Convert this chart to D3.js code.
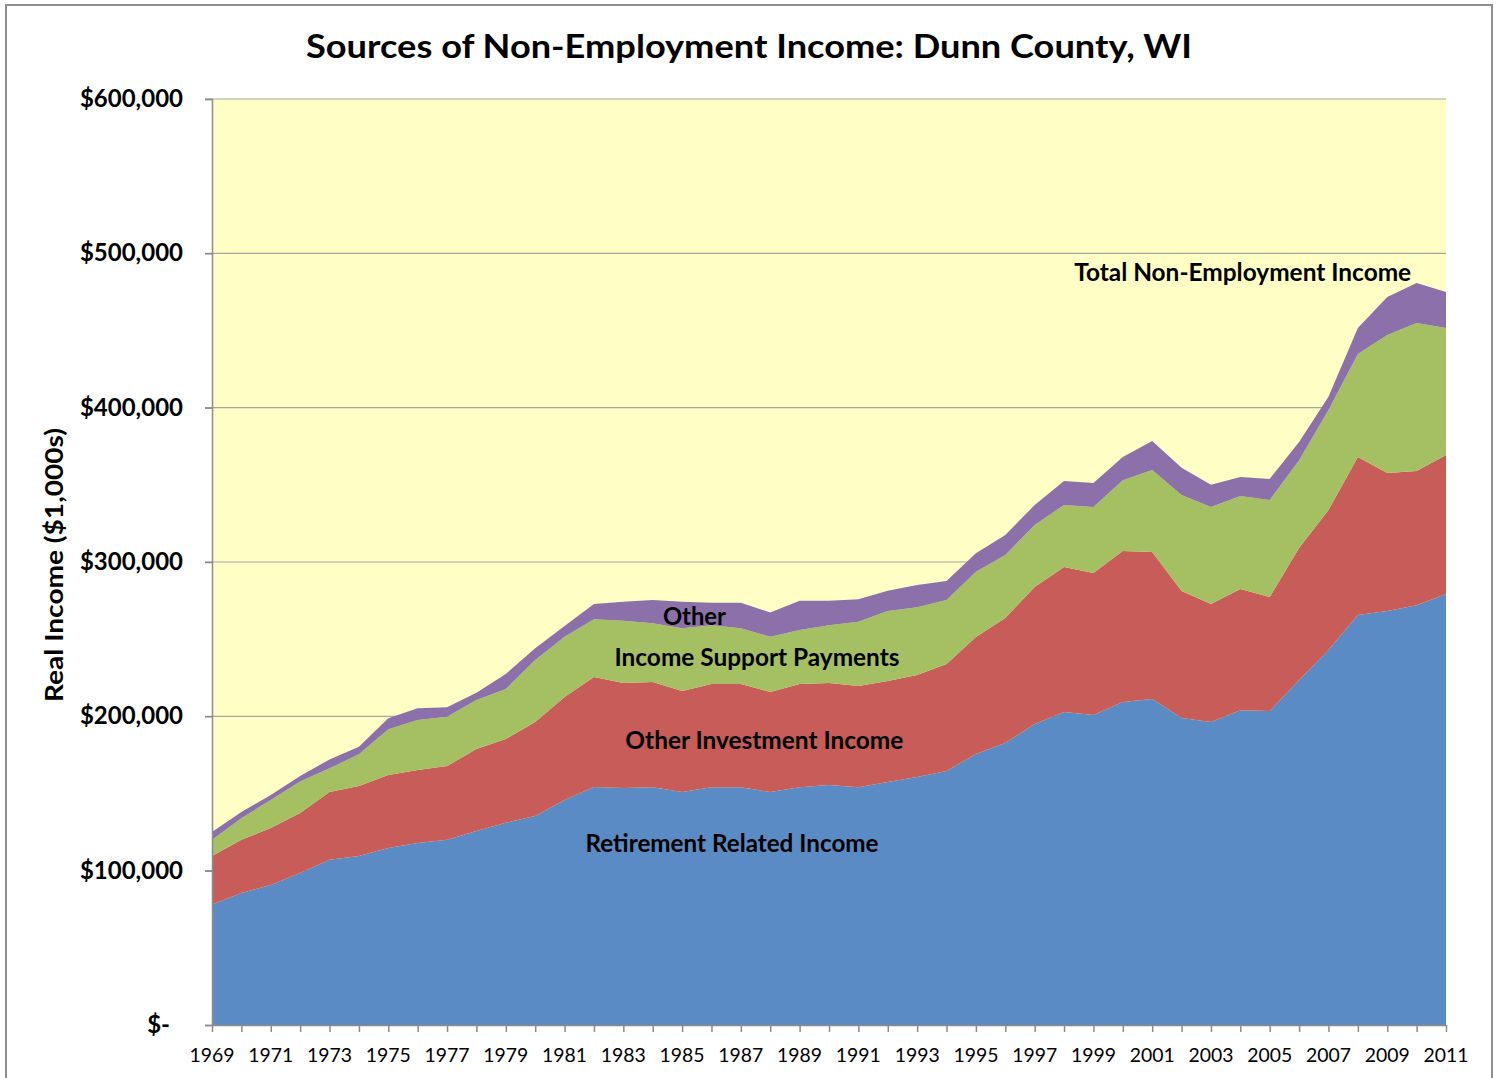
<!DOCTYPE html>
<html>
<head>
<meta charset="utf-8">
<script src="https://cdn.jsdelivr.net/npm/d3@7"></script>
<style>
  body { margin: 0; background: #fff; }
  text { font-family: Lato, "Open Sans", sans-serif; fill: #000; }
</style>
</head>
<body>
<div id="chart"></div>
<script>
// years on the x axis
var years = d3.range(1969, 2012);

// values in $1,000s
var retirement = [78, 85.5, 90.7, 98.5, 107, 109.5, 114.7, 118, 120, 125.7,
  131, 135.4, 145.8, 154.2, 153.6, 154, 151, 154, 154, 151,
  154, 155.5, 154, 157.5, 160.7, 164.6, 175.6, 182.7, 195, 202.8,
  200.9, 209.3, 211.2, 199, 196.3, 204, 203.5, 223.5, 243, 265.7,
  268.3, 272, 279.3];
var investment = [31.5, 34.5, 36.9, 38.9, 44, 45.4, 47.3, 47.2, 47.8, 53.1,
  54.3, 60.9, 66.7, 71.3, 68, 68.3, 65.4, 67, 67, 64.8,
  67, 66.1, 65.7, 65.4, 66.1, 69.3, 75.8, 81, 88.8, 94,
  92, 97.8, 95.3, 82.2, 76.5, 78.5, 73.8, 85.5, 90.7, 102.3,
  89.4, 87, 90];
var support = [10.5, 14, 18.2, 20.3, 15.3, 20.5, 29.6, 32.4, 32, 31.8,
  32.4, 40.2, 39.1, 37.4, 40.4, 38, 40.6, 38, 36, 35.8,
  35, 37.4, 41.6, 45.4, 43.9, 41.5, 42.3, 40.8, 40.2, 40.2,
  42.7, 45.9, 53.1, 62.2, 62.8, 60.3, 62.9, 57, 64.8, 66.8,
  89.4, 95.9, 82.3];
var other = [5, 4, 3.2, 3.6, 5.8, 4.9, 7.1, 7.6, 6.1, 4.7,
  9.7, 7.6, 6.9, 9.9, 12.3, 15.1, 17.3, 14.6, 16.6, 15.6,
  18.9, 15.9, 14.5, 13.1, 14.4, 12.3, 11.9, 13, 12.9, 15.5,
  15.6, 15, 18.8, 17.6, 14.4, 12.2, 13.6, 11.8, 8.5, 16.8,
  24.6, 25.9, 23.4];

var seriesNames = ["Retirement Related Income", "Other Investment Income",
  "Income Support Payments", "Other"];
var yTicks = [0, 100, 200, 300, 400, 500, 600];
var xTickLabels = d3.range(1969, 2012, 2);

// build rows for d3.stack
var rows = years.map(function(yr, i) {
  return {
    year: yr,
    "Retirement Related Income": retirement[i],
    "Other Investment Income": investment[i],
    "Income Support Payments": support[i],
    "Other": other[i]
  };
});

var colors = ["#5b8bc4", "#c75c58", "#a5c063", "#8b70aa"];

// set the dimensions and margins of the graph
var W = 1499, H = 1078;
var margin = {top: 99, right: 53, bottom: 53, left: 212},
    width = W - margin.left - margin.right,
    height = H - margin.top - margin.bottom;

var root = d3.select("#chart")
  .append("svg")
  .attr("width", W)
  .attr("height", H);

// outer chart border
root.append("rect")
  .attr("x", 6).attr("y", 5)
  .attr("width", 1486).attr("height", 1090)
  .attr("fill", "none")
  .attr("stroke", "#8e8e8e")
  .attr("stroke-width", 2);

var svg = root.append("g")
  .attr("transform", "translate(" + margin.left + "," + margin.top + ")");

var x = d3.scaleLinear().domain([1969, 2011]).range([0, width]);
var y = d3.scaleLinear().domain([0, 600]).range([height, 0]);

// total non-employment income background
svg.append("rect")
  .attr("width", width)
  .attr("height", height)
  .attr("fill", "#ffffc5");

// gridlines
svg.append("g")
  .selectAll("line")
  .data(yTicks.filter(function(d) { return d > 0; }))
  .enter().append("line")
  .attr("x1", -7).attr("x2", width)
  .attr("y1", function(d) { return y(d); })
  .attr("y2", function(d) { return y(d); })
  .attr("stroke", "#a6a6a6")
  .attr("stroke-width", 1.2);

// stacked areas
var stack = d3.stack().keys(seriesNames);
var layers = stack(rows);

var area = d3.area()
  .x(function(d) { return x(d.data.year); })
  .y0(function(d) { return y(d[0]); })
  .y1(function(d) { return y(d[1]); });

svg.selectAll(".layer")
  .data(layers)
  .enter().append("path")
  .attr("class", "layer")
  .attr("fill", function(d, i) { return colors[i]; })
  .attr("d", area);

// y axis
var yAxis = svg.append("g")
  .call(d3.axisLeft(y).tickValues(yTicks).tickSize(7).tickFormat(""));
yAxis.select(".domain").attr("stroke", "#8c8c8c").attr("stroke-width", 1.5);
yAxis.selectAll(".tick line").attr("stroke", "#8c8c8c").attr("stroke-width", 1.5);

// accounting style: the zero label "$-" keeps some padding on the right
svg.append("g")
  .selectAll("text")
  .data(yTicks)
  .enter().append("text")
  .attr("x", function(d) { return d === 0 ? -42 : -29; })
  .attr("y", function(d) { return y(d) + 8; })
  .attr("text-anchor", "end")
  .style("font-size", "24px")
  .style("font-weight", "bold")
  .text(function(d) { return d === 0 ? "$-" : "$" + d3.format(",")(d * 1000); });

// x axis
var xAxis = svg.append("g")
  .attr("transform", "translate(0," + height + ")")
  .call(d3.axisBottom(x).tickValues(years).tickSize(7).tickSizeOuter(0).tickFormat(""));
xAxis.select(".domain").attr("stroke", "#8c8c8c").attr("stroke-width", 1.5);
xAxis.selectAll(".tick line").attr("stroke", "#8c8c8c").attr("stroke-width", 1.5);

svg.append("g")
  .selectAll("text")
  .data(xTickLabels)
  .enter().append("text")
  .attr("x", function(d) { return x(d); })
  .attr("y", height + 37)
  .attr("text-anchor", "middle")
  .style("font-size", "19px")
  .attr("textLength", 45)
  .attr("lengthAdjust", "spacingAndGlyphs")
  .text(function(d) { return d; });

// title
root.append("text")
  .attr("x", 749).attr("y", 58)
  .attr("text-anchor", "middle")
  .style("font-size", "32px")
  .style("font-weight", "bold")
  .attr("textLength", 886)
  .attr("lengthAdjust", "spacingAndGlyphs")
  .text("Sources of Non-Employment Income: Dunn County, WI");

// y axis title
root.append("text")
  .attr("transform", "translate(63,565) rotate(-90)")
  .attr("text-anchor", "middle")
  .style("font-size", "24px")
  .style("font-weight", "bold")
  .attr("textLength", 274)
  .attr("lengthAdjust", "spacingAndGlyphs")
  .text("Real Income ($1,000s)");

// in-chart series labels: [text, year, value, width]
var labelText = ["Total Non-Employment Income", "Other", "Income Support Payments",
  "Other Investment Income", "Retirement Related Income"];
var labelYear = [2004.08, 1985.42, 1987.55, 1987.8, 1986.7];
var labelValue = [482, 259, 232.5, 179, 112];
var labelWidth = [337, 63, 285, 278, 293];

svg.append("g")
  .selectAll("text")
  .data(labelText)
  .enter().append("text")
  .attr("x", function(d, i) { return x(labelYear[i]); })
  .attr("y", function(d, i) { return y(labelValue[i]); })
  .attr("text-anchor", "middle")
  .style("font-size", "24px")
  .style("font-weight", "bold")
  .attr("textLength", function(d, i) { return labelWidth[i]; })
  .attr("lengthAdjust", "spacingAndGlyphs")
  .text(function(d) { return d; });
</script>
</body>
</html>
